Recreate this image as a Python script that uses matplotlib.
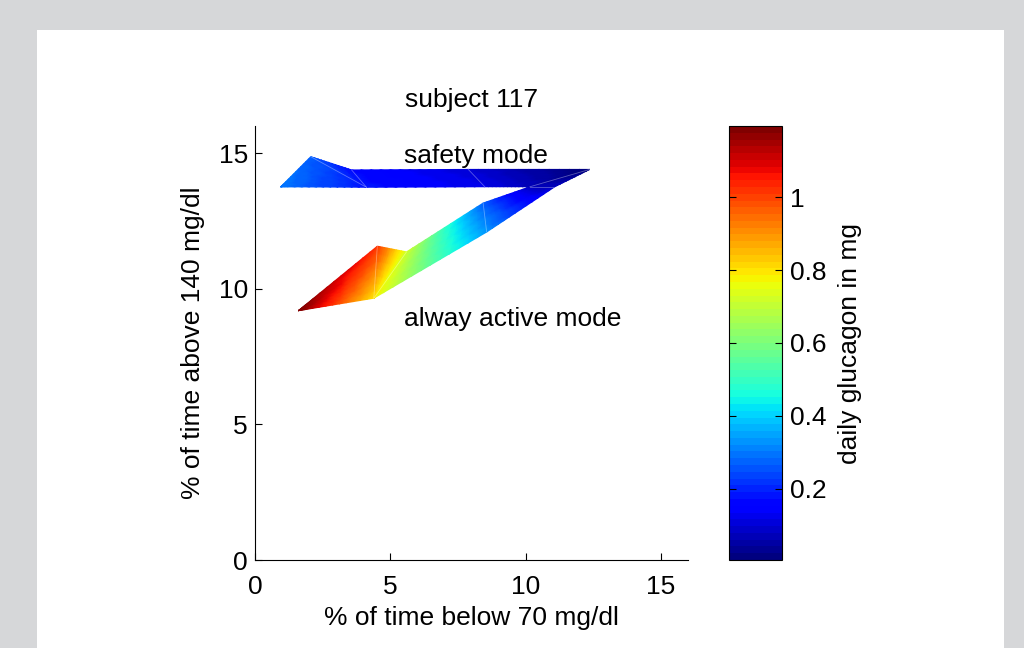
import numpy as np
import matplotlib
matplotlib.use('Agg')
import matplotlib.pyplot as plt

plt.rcParams['font.family'] = ['Liberation Sans', 'DejaVu Sans']
plt.rcParams['font.size'] = 19

# ribbon vertices: outer edge / inner edge, one column per mesh node
outer_x = [0.95, 2.06, 3.57, 7.88, 12.37, 11.08, 8.56, 4.39, 4.39, 1.60]
outer_y = [13.76, 14.87, 14.38, 14.40, 14.40, 13.76, 12.09, 9.65, 9.65, 9.19]
inner_x = [0.95, 4.12, 4.12, 8.49, 10.16, 10.16, 8.43, 5.60, 4.52, 1.60]
inner_y = [13.76, 13.74, 13.74, 13.76, 13.76, 13.76, 13.16, 11.36, 11.57, 9.19]
# daily glucagon (mg) at each node
outer_val = [0.30, 0.27, 0.17, 0.10, 0.005, 0.08, 0.33, 0.78, 0.80, 1.195]
inner_val = [0.30, 0.18, 0.18, 0.12, 0.07, 0.07, 0.27, 0.72, 1.02, 1.195]

cb_ticks = [0.2, 0.4, 0.6, 0.8, 1.0]
cb_ticklabels = ['0.2', '0.4', '0.6', '0.8', '1']


def refine(o, i, n=12, m=8):
    # subdivide each quad so colours are interpolated in colormap space (like MATLAB interp shading)
    o = np.asarray(o, float)
    i = np.asarray(i, float)
    cols = []
    for j in range(len(o) - 1):
        u = np.linspace(0, 1, n, endpoint=(j == len(o) - 2))
        cols.append(np.outer(1 - u, [o[j], i[j]]) + np.outer(u, [o[j + 1], i[j + 1]]))
    edge = np.vstack(cols)  # (N, 2): along-ribbon, [outer, inner]
    v = np.linspace(0, 1, m)
    return np.outer(1 - v, edge[:, 0]) + np.outer(v, edge[:, 1])


X = refine(outer_x, inner_x)
Y = refine(outer_y, inner_y)
C = refine(outer_val, inner_val)

fig = plt.figure(figsize=(10.24, 6.48), dpi=100)
fig.patch.set_facecolor('#d6d7d9')
fig.add_artist(plt.Rectangle((37 / 1024, 0), (1004 - 37) / 1024, 1 - 30 / 648,
                             transform=fig.transFigure, facecolor='white', edgecolor='none', zorder=0))

ax = fig.add_axes([255 / 1024, 1 - 560 / 648, 433 / 1024, 434 / 648])
cax = fig.add_axes([729 / 1024, 1 - 560 / 648, 53 / 1024, 434 / 648])

cmap = plt.get_cmap('jet', 64)
mesh = ax.pcolormesh(X, Y, C, shading='gouraud', cmap=cmap, vmin=0.005, vmax=1.195)

# faint mesh edges
for j in range(len(outer_x)):
    ax.plot([outer_x[j], inner_x[j]], [outer_y[j], inner_y[j]], color='white', lw=0.6, alpha=0.35)

ax.set_xlim(0, 16)
ax.set_ylim(0, 16)
ax.set_xticks([0, 5, 10, 15])
ax.set_yticks([0, 5, 10, 15])
ax.spines['top'].set_visible(False)
ax.spines['right'].set_visible(False)
ax.tick_params(direction='in', length=5, width=0.8)
ax.tick_params(axis='x', pad=11)
ax.tick_params(axis='y', pad=5)
ax.set_facecolor('white')

ax.text(5.5, 14.88, 'safety mode', va='center', ha='left')
ax.text(5.5, 8.9, 'alway active mode', va='center', ha='left')

ax.set_title('subject 117', fontsize=19, pad=14)
ax.set_xlabel('% of time below 70 mg/dl', labelpad=5)
ax.set_ylabel('% of time above 140 mg/dl', labelpad=10)

cb = fig.colorbar(mesh, cax=cax)
cb.set_ticks(cb_ticks)
cb.set_ticklabels(cb_ticklabels)
cax.tick_params(direction='in', length=5, width=0.8, left=True, right=True, pad=6)
cb.outline.set_linewidth(0.8)
cb.set_label('daily glucagon in mg', labelpad=8)

fig.savefig('out.png', dpi=100, facecolor=fig.get_facecolor())
